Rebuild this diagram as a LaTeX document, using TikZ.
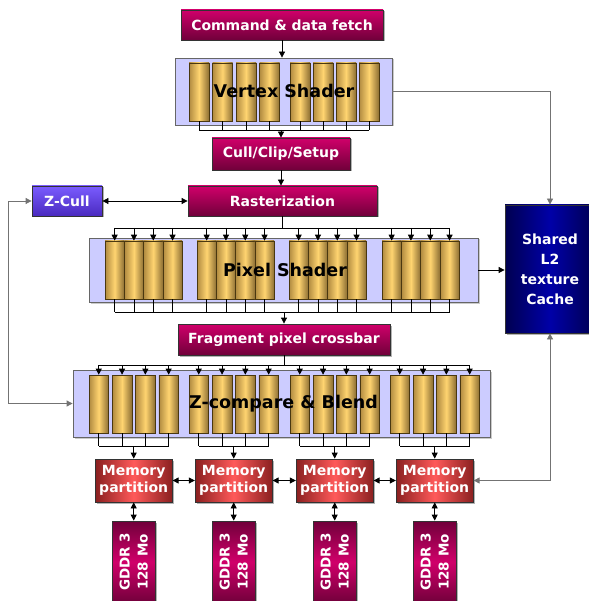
\documentclass[tikz,border=0pt]{standalone}
\usepackage{fontspec}
\setmainfont{DejaVu Sans}
\usepackage{tikz}
\usetikzlibrary{arrows.meta, positioning, shadows}
\definecolor{GpuMagL}{HTML}{D0006A}
\definecolor{GpuMagD}{HTML}{70003A}
\definecolor{GpuRedL}{HTML}{FF5A5A}
\definecolor{GpuRedD}{HTML}{8A2020}
\definecolor{GpuNavyL}{HTML}{0000A8}
\definecolor{GpuNavyD}{HTML}{000050}
\definecolor{GpuVioL}{HTML}{7A5CFF}
\definecolor{GpuVioD}{HTML}{4A2ABF}
\definecolor{GpuCylL}{HTML}{FFD470}
\definecolor{GpuCylD}{HTML}{B08A40}
\definecolor{GpuCylE}{HTML}{4A3810}
\definecolor{GpuLav}{HTML}{CCCCFF}

\begin{document}
\begin{tikzpicture}[x=1pt, y=-1pt, >={Triangle[length=6pt, width=6pt]}, line width=0.8pt,
  box/.style={draw=black!80, inner sep=0pt, text=white, align=center,
    font=\bfseries\fontsize{14}{17}\selectfont,
    drop shadow={shadow xshift=1.5pt, shadow yshift=-1.5pt, fill=black!50, opacity=0.6}},
  magbox/.style={box, top color=GpuMagL, bottom color=GpuMagD},
  membox/.style={box, minimum width=77pt, minimum height=43pt, left color=GpuRedD, right color=GpuRedD, middle color=GpuRedL},
  dram/.style={box, rotate=90, minimum width=82pt, minimum height=43pt, font=\bfseries\fontsize{13.5}{18}\selectfont,
    top color=GpuMagD, bottom color=GpuMagD, middle color=GpuMagL},
  shader/.style={draw=black!60, fill=GpuLav, inner sep=0pt,
    drop shadow={shadow xshift=1.5pt, shadow yshift=-1.5pt, fill=black!35, opacity=0.6}},
  cyl/.style={draw=GpuCylE, line width=0.6pt, inner sep=0pt, minimum height=58pt,
    left color=GpuCylD, right color=GpuCylD!80!black, middle color=GpuCylL},
  lbl/.style={font=\bfseries\fontsize{17.5}{20}\selectfont},
  feed/.style={draw=black!55}]
  \useasboundingbox (0,0) rectangle (588,601);

  % bus levels
  \coordinate (VB) at (0,130);
  \coordinate (RB) at (0,228);
  \coordinate (PB) at (0,312);
  \coordinate (XR) at (0,365);
  \coordinate (ZB) at (0,446);
  \coordinate (LP) at (8,0);

  % front end
  \node[magbox, minimum width=202pt, minimum height=30pt] (Cmd) at (282,25) {Command \& data fetch};
  \node[shader, minimum width=217pt, minimum height=67pt] (VS) at (283.5,91.5) {};
  \foreach \x [count=\i] in {199,222.5,246,269.5,300,323,346,369}
    \node[cyl, minimum width=20pt] (V\i) at (\x,92) {};
  \node[lbl] (VSl) at (284,91) {Vertex Shader};
  \node[magbox, minimum width=138pt, minimum height=32pt] (Cull) at (281,154) {Cull/Clip/Setup};
  \node[magbox, minimum width=189pt, minimum height=30pt] (Rast) at (282.5,201) {Rasterization};
  \node[box, minimum width=70pt, minimum height=30pt, top color=GpuVioL, bottom color=GpuVioD] (ZCull) at (67,201) {Z-Cull};
  \node[box, minimum width=90pt, minimum height=128pt, left color=GpuNavyD, right color=GpuNavyD, middle color=GpuNavyL,
    font=\bfseries\fontsize{14}{20}\selectfont] (L2) at (550,269) {Shared\\L2\\texture\\Cache};

  % pixel shader
  \node[shader, minimum width=389pt, minimum height=64pt] (PS) at (283.5,270) {};
  \foreach \g [count=\j] in {105,197,289,382}
    \foreach \k in {0,...,3}
      \node[cyl, minimum width=19.3pt] (P\j\k) at (\g+9.65+19.3*\k,270) {};
  \node[lbl] (PSl) at (285,270) {Pixel Shader};
  \node[magbox, minimum width=212pt, minimum height=31pt] (XBar) at (284,339.5) {Fragment pixel crossbar};

  % z-compare and blend
  \node[shader, minimum width=417pt, minimum height=67pt] (ZBox) at (281.5,403.5) {};
  \foreach \g [count=\j] in {89,189,290,390} {
    \foreach \k in {0,...,3}
      \node[cyl, minimum width=19.5pt] (Z\j\k) at (\g+9.75+23.3*\k,404) {};
    \node[membox] (M\j) at (\g+44.7,480.5) {Memory\\partition};
    \node[dram] (G\j) at (\g+44.7,562) {GDDR 3\\128 Mo};
  }
  \node[lbl] (ZBl) at (283.5,404) {Z-compare \& Blend};

  % vertex path
  \draw[->] (Cmd.south) -- (VS.north -| Cmd.south);
  \foreach \i in {1,...,8}
    \draw (V\i.south) -- (V\i.south |- VB);
  \draw (V1.south |- VB) -- (V8.south |- VB);
  \draw[->] (Cull.north |- VB) -- (Cull.north);
  \draw[->] (Cull.south) -- (Rast.north -| Cull.south);
  \draw[->, feed] (VS.east) -| (L2.north);

  % raster to pixel shader
  \draw (Rast.south) -- (Rast.south |- RB);
  \draw (P10.north |- RB) -- (P43.north |- RB);
  \foreach \j in {1,...,4}
    \foreach \k in {0,...,3} {
      \draw[->] (P\j\k.north |- RB) -- (P\j\k.north);
      \draw (P\j\k.south) -- (P\j\k.south |- PB);
    }
  \draw (P10.south |- PB) -- (P43.south |- PB);
  \draw[->] (XBar.north |- PB) -- (XBar.north);
  \draw[->] (PS.east) -- (PS.east -| L2.west);
  \draw[<->] (ZCull.east) -- (Rast.west);
  \draw[<->, feed] (ZCull.west) -- (ZCull.west -| LP) -- (ZBox.west -| LP) -- (ZBox.west);

  % crossbar to ROPs, ROPs to memory
  \draw (XBar.south) -- (XBar.south |- XR);
  \draw (Z10.north |- XR) -- (Z43.north |- XR);
  \foreach \j in {1,...,4} {
    \foreach \k in {0,...,3} {
      \draw[->] (Z\j\k.north |- XR) -- (Z\j\k.north);
      \draw (Z\j\k.south) -- (Z\j\k.south |- ZB);
    }
    \draw (Z\j0.south |- ZB) -- (Z\j3.south |- ZB);
    \draw[->] (M\j.north |- ZB) -- (M\j.north);
    \draw[<->] (M\j.south) -- (G\j.east);
  }
  \draw[<->] (M1.east) -- (M2.west);
  \draw[<->] (M2.east) -- (M3.west);
  \draw[<->] (M3.east) -- (M4.west);
  \draw[<->, feed] (M4.east) -| (L2.south);
\end{tikzpicture}
\end{document}
